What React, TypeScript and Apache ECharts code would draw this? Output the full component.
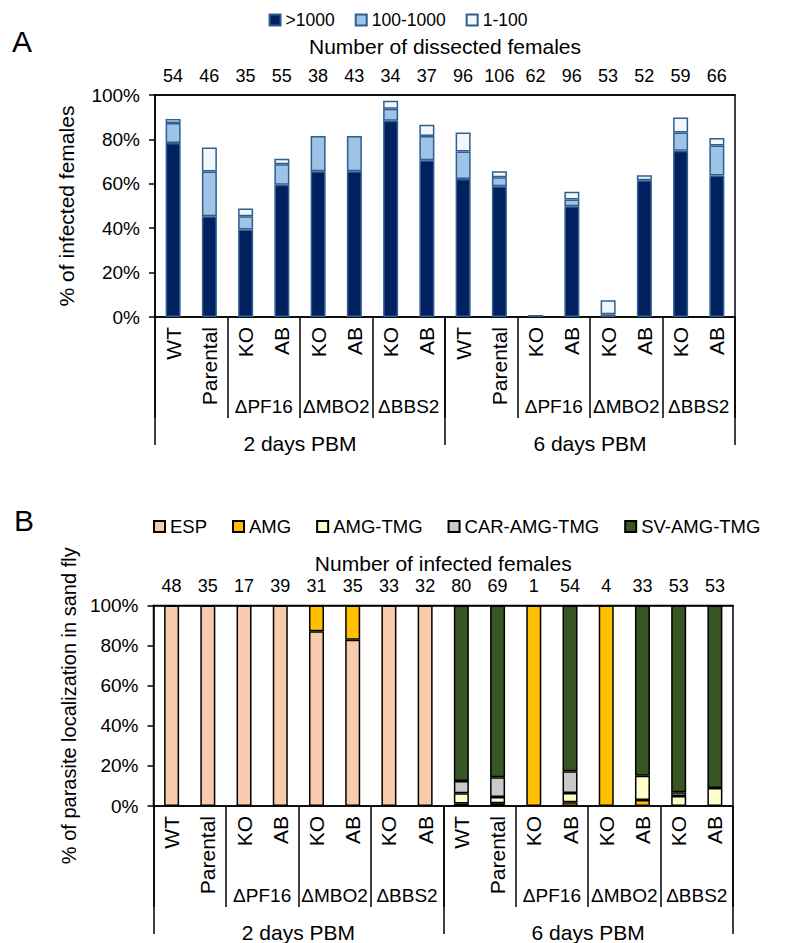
import React, { useEffect, useRef } from 'react';
import * as echarts from 'echarts';

const FONT = '"Liberation Sans", Arial, Helvetica, sans-serif';

const categories = ['WT', 'Parental', 'KO', 'AB', 'KO', 'AB', 'KO', 'AB', 'WT', 'Parental', 'KO', 'AB', 'KO', 'AB', 'KO', 'AB'];
const groupLabels = ['', '\u0394PF16', '\u0394MBO2', '\u0394BBS2', '', '\u0394PF16', '\u0394MBO2', '\u0394BBS2'];
const dayLabels = ['2 days PBM', '6 days PBM'];

const dissectedCounts = ['54', '46', '35', '55', '38', '43', '34', '37', '96', '106', '62', '96', '53', '52', '59', '66'];
const infectedCounts = ['48', '35', '17', '39', '31', '35', '33', '32', '80', '69', '1', '54', '4', '33', '53', '53'];

// Panel A: parasite load (% of infected females)
const loadNames = ['>1000', '100-1000', '1-100'];
const loadHigh = [78.4, 45.4, 39.4, 59.6, 65.6, 65.6, 88.4, 70.6, 62.2, 58.9, 0.9, 49.9, 1.2, 61.6, 74.9, 63.7];
const loadMid = [9.0, 20.1, 6.0, 9.2, 15.9, 15.9, 5.4, 10.9, 12.4, 4.0, 0, 3.0, 0, 0, 8.2, 13.5];
const loadLow = [1.8, 10.9, 3.5, 2.5, 0, 0, 3.6, 5.1, 8.5, 2.7, 0, 3.5, 6.4, 2.2, 6.8, 3.4];

// Panel B: localization (% of parasite localization in sand fly)
const locNames = ['ESP', 'AMG', 'AMG-TMG', 'CAR-AMG-TMG', 'SV-AMG-TMG'];
const locESP = [100, 100, 100, 100, 87.1, 82.9, 100, 100, 0, 0, 0, 0, 0, 0, 0, 0];
const locAMG = [0, 0, 0, 0, 12.9, 17.1, 0, 0, 1.3, 1.4, 100, 1.9, 100, 3.0, 0, 0];
const locAMGTMG = [0, 0, 0, 0, 0, 0, 0, 0, 5.0, 3.1, 0, 4.6, 0, 12.1, 5.0, 9.0];
const locCAR = [0, 0, 0, 0, 0, 0, 0, 0, 6.2, 9.8, 0, 10.8, 0, 0, 1.9, 0];
const locSV = [0, 0, 0, 0, 0, 0, 0, 0, 87.5, 85.7, 0, 82.7, 0, 84.9, 93.1, 91.0];

const loadColors = ['#002060', '#9dc3e6', '#f3f7fc'];
const locColors = ['#f8cbad', '#ffc000', '#ffffcc', '#c9c9c9', '#375623'];

const blk = { color: '#000', width: 1.5 };

function xAxesFor(gridIndex: number, counts: string[], countTitle: string, nameGap: number, countMargin: number) {
  return [
    {
      type: 'category', gridIndex, data: categories, position: 'bottom',
      axisLine: { show: true, onZero: false, lineStyle: blk },
      axisTick: { show: false },
      axisLabel: { interval: 0, rotate: 90, fontSize: 21, color: '#000', margin: 10, fontFamily: FONT },
    },
    {
      type: 'category', gridIndex, data: groupLabels, position: 'bottom', offset: 101,
      axisLine: { show: false, onZero: false },
      axisTick: { show: true, inside: true, length: 101, interval: 0, lineStyle: blk },
      axisLabel: { inside: true, interval: 0, margin: 2, fontSize: 19, color: '#000', fontFamily: FONT },
    },
    {
      type: 'category', gridIndex, data: dayLabels, position: 'bottom', offset: 128,
      axisLine: { show: false, onZero: false },
      axisTick: { show: true, inside: true, length: 128, interval: 0, lineStyle: blk },
      axisLabel: { interval: 0, margin: -12, fontSize: 21, color: '#000', fontFamily: FONT },
    },
    {
      type: 'category', gridIndex, data: counts, position: 'top',
      axisLine: { show: true, onZero: false, lineStyle: blk },
      axisTick: { show: false },
      axisLabel: { interval: 0, margin: countMargin, fontSize: 18, color: '#000', fontFamily: FONT },
      name: countTitle, nameLocation: 'middle', nameGap,
      nameTextStyle: { fontSize: 21, color: '#000', fontFamily: FONT },
    },
  ];
}

function yAxisFor(gridIndex: number, title: string, nameGap: number, nameSize: number) {
  return {
    type: 'value', gridIndex, min: 0, max: 100, interval: 20,
    axisLine: { show: true, lineStyle: blk },
    axisTick: { show: true, length: 6, lineStyle: blk },
    splitLine: { show: false },
    axisLabel: { formatter: '{value}%', fontSize: 19, color: '#000', margin: 15, fontFamily: FONT },
    name: title, nameLocation: 'middle', nameGap,
    nameTextStyle: { fontSize: nameSize, color: '#000', fontFamily: FONT },
  };
}

const clean = (arr: number[]) => arr.map((v) => (v === 0 ? '-' : v));

export default function App() {
  const ref = useRef<HTMLDivElement>(null);
  useEffect(() => {
    document.body.style.margin = '0';
    const chart = echarts.init(ref.current!, null, { renderer: 'svg' });
    const loadData = [loadHigh, loadMid, loadLow];
    const locData = [locESP, locAMG, locAMGTMG, locCAR, locSV];
    const series: any[] = [];
    loadNames.forEach((n, i) => {
      series.push({
        type: 'bar', name: n, stack: 'load', xAxisIndex: 0, yAxisIndex: 0,
        data: clean(loadData[i]), barWidth: 15,
        itemStyle: { color: loadColors[i], borderColor: '#2f5f8f', borderWidth: 1.5 },
      });
    });
    locNames.forEach((n, i) => {
      series.push({
        type: 'bar', name: n, stack: 'loc', xAxisIndex: 4, yAxisIndex: 1,
        data: clean(locData[i]), barWidth: 15,
        itemStyle: { color: locColors[i], borderColor: '#000', borderWidth: 1.5 },
      });
    });
    chart.setOption({
      animation: false,
      backgroundColor: '#fff',
      textStyle: { fontFamily: FONT },
      grid: [
        { left: 155, width: 580, top: 95, height: 222, show: true, borderColor: '#000', borderWidth: 1.5, backgroundColor: 'transparent' },
        { left: 153.5, width: 579.5, top: 605.5, height: 204.5, show: true, borderColor: '#000', borderWidth: 1.5, backgroundColor: 'transparent' },
      ],
      legend: [
        {
          data: loadNames, top: 6, left: 'center', icon: 'rect', itemWidth: 11, itemHeight: 11, itemGap: 20,
          textStyle: { fontSize: 17.5, color: '#000', fontFamily: FONT },
        },
        {
          data: locNames, top: 512, left: 148, icon: 'rect', itemWidth: 11, itemHeight: 11, itemGap: 25,
          textStyle: { fontSize: 18.5, color: '#000', fontFamily: FONT },
        },
      ],
      xAxis: [
        ...xAxesFor(0, dissectedCounts, 'Number of dissected females', 38, 10),
        ...xAxesFor(1, infectedCounts, 'Number of infected females', 32, 11),
      ],
      yAxis: [
        yAxisFor(0, '% of infected females', 78, 21),
        yAxisFor(1, '% of parasite localization in sand fly', 73, 20),
      ],
      graphic: [
        { type: 'text', left: 12, top: 26, style: { text: 'A', fontSize: 30, fill: '#000', fontFamily: FONT } },
        { type: 'text', left: 14, top: 505, style: { text: 'B', fontSize: 30, fill: '#000', fontFamily: FONT } },
      ],
      series,
    });
    return () => chart.dispose();
  }, []);
  return <div ref={ref} style={{ width: 796, height: 943 }} />;
}
